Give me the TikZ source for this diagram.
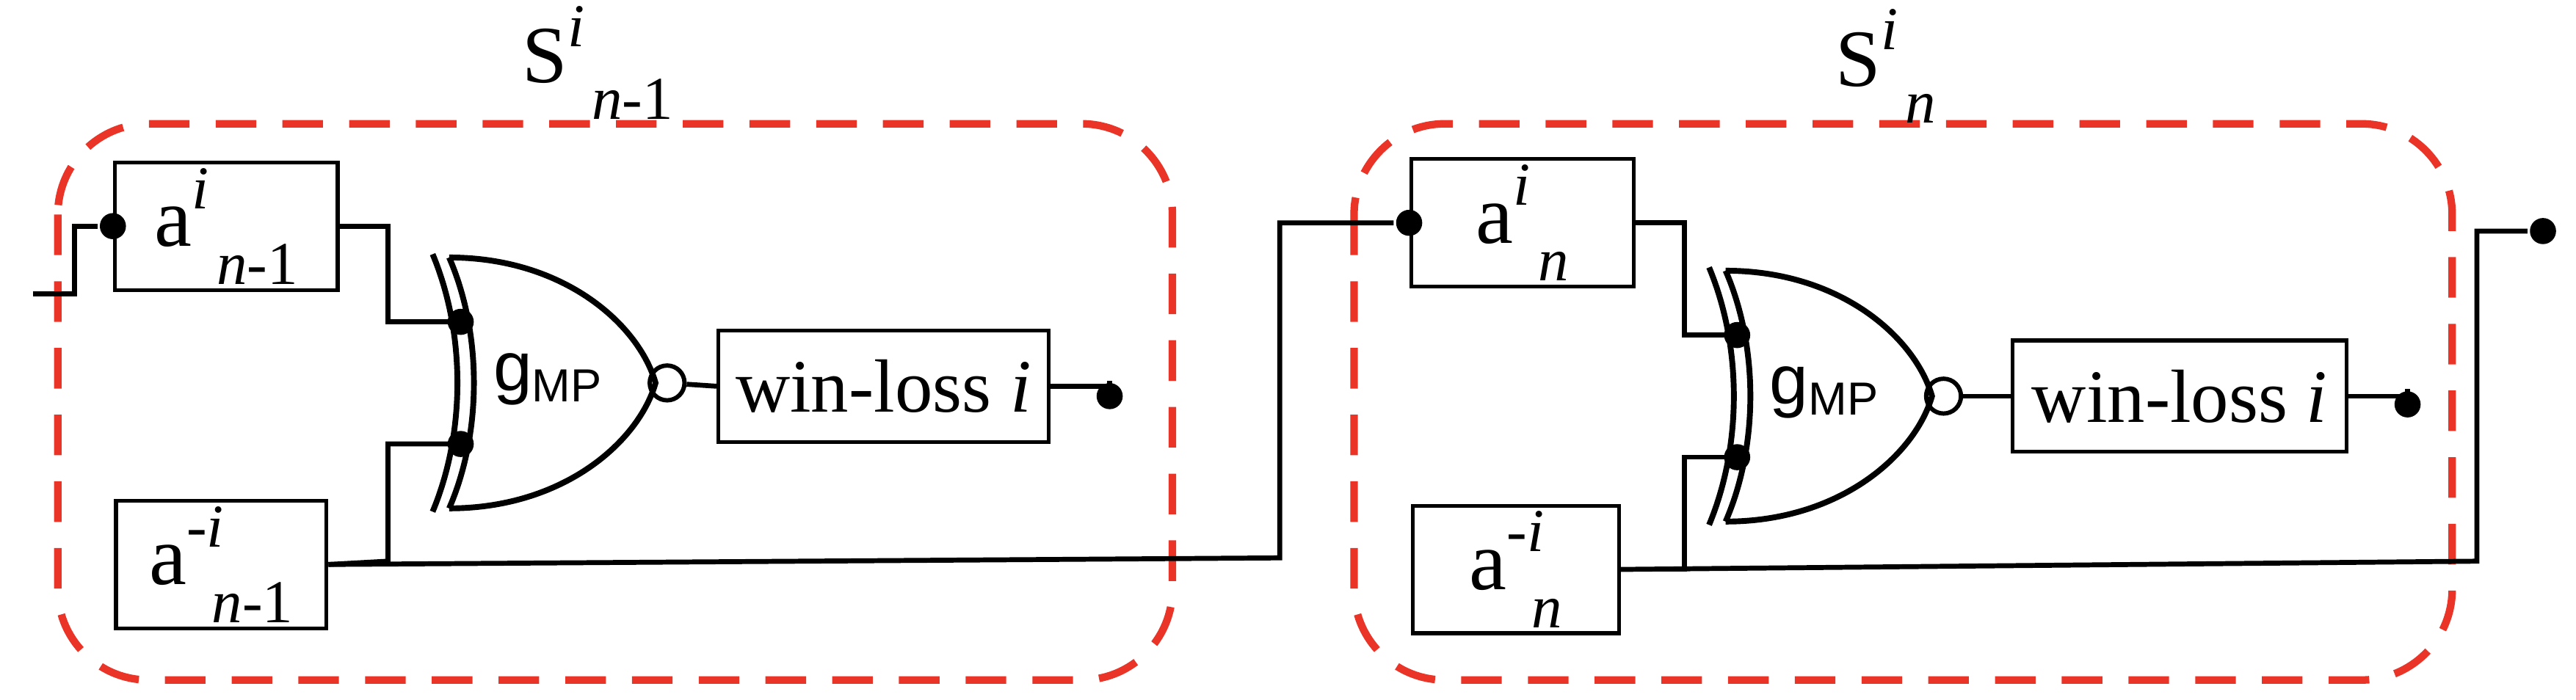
\documentclass[tikz,border=0pt]{standalone}
\usepackage{fontspec}
\setmainfont{Liberation Serif}
\newfontfamily\gatefont{Liberation Sans}
\usetikzlibrary{positioning}
\definecolor{stagered}{RGB}{235,52,40}
\newcommand{\regtxt}[3]{#1\rlap{\raisebox{0.45em}{\fontsize{21}{23}\selectfont #2}}\raisebox{-0.45em}{\hspace{0.3em}\fontsize{21}{23}\selectfont #3}}
\begin{document}
\begin{tikzpicture}[x=0.02cm,y=-0.02cm,line width=1.7pt]
\tikzset{reg/.style = {draw,line width=1.3pt,minimum height=1.35cm,inner sep=2pt,font=\fontsize{29}{32}\selectfont}}
\tikzset{wl/.style = {reg,font=\fontsize{26}{30}\selectfont}}
\tikzset{stage/.style = {draw=stagered,dash pattern=on 14pt off 9pt,line width=2.6pt,rounded corners=1.1cm}}
\tikzset{pin/.style = {circle,fill,inner sep=0pt,minimum size=9pt}}
\tikzset{ttl/.style = {font=\fontsize{28}{32}\selectfont}}
\useasboundingbox (0,0) rectangle (1560,424);
% stages
\draw[stage] (35,75) rectangle (710,412);
\draw[stage] (820,75) rectangle (1485,412);
\node[ttl] (s1) at (362,38) {\regtxt{S}{\textit{i}}{\textit{n}-1}};
\node[ttl] (s2) at (1142,40) {\regtxt{S}{\textit{i}}{\textit{n}}};
% gates
\foreach \gx/\gy/\gn in {262/232/g1, 1035/240/g2} {
  \begin{scope}[shift={(\gx,\gy)},line width=2pt]
    \draw (0,-78) .. controls (20,-30) and (20,30) .. (0,78);
    \draw (10,-76) .. controls (30,-30) and (30,30) .. (10,76);
    \draw (10,-76) .. controls (80,-76) and (125,-35) .. (135,0)
          .. controls (125,35) and (80,76) .. (10,76);
    \node[circle,draw,line width=1.5pt,inner sep=0pt,minimum size=12pt] (\gn) at (142,0) {};
    \node[font=\gatefont\fontsize{24}{28}\selectfont] at (70,-2) {g\textsubscript{\fontsize{16}{18}\selectfont MP}};
    \coordinate (\gn a) at (17,-37);
    \coordinate (\gn b) at (17,37);
  \end{scope}
}
% left stage
\node[reg,minimum width=2.7cm] (a1) at (137,137) {\regtxt{a}{\textit{i}}{\textit{n}-1}};
\node[reg,minimum width=2.55cm] (b1) at (134,342) {\regtxt{a}{-\textit{i}}{\textit{n}-1}};
\node[wl,minimum width=4cm] (w1) at (535,234) {win-loss \textit{i}};
\node[pin] (o1) at (672,240) {};
\node[pin] (i1) at (a1.west) {};
\coordinate (in) at (20,178);
\draw (in) -- (45,178) |- (i1);
\draw (a1.east) -- (235,137) |- (g1a);
\node[pin] at (g1a) {};
\draw (b1.east) -- (235,340) |- (g1b);
\node[pin] at (g1b) {};
\draw (g1) -- (w1.west);
\draw (w1.east) -- (w1.east -| o1) -- (o1);
% right stage
\node[reg,minimum width=2.7cm] (a2) at (922,135) {\regtxt{a}{\textit{i}}{\textit{n}}};
\node[reg,minimum width=2.5cm] (b2) at (918,345) {\regtxt{a}{-\textit{i}}{\textit{n}}};
\node[wl,minimum width=4.05cm] (w2) at (1320,240) {win-loss \textit{i}};
\node[pin] (o2) at (1458,245) {};
\node[pin] (i2) at (a2.west) {};
\draw (b1.east) -- (775,338) |- (i2);
\draw (a2.east) -- (1020,135) |- (g2a);
\node[pin] at (g2a) {};
\draw (b2.east) -- (1020,345) |- (g2b);
\node[pin] at (g2b) {};
\draw (g2) -- (w2.west);
\draw (w2.east) -- (w2.east -| o2) -- (o2);
\node[pin] (o3) at (1540,140) {};
\draw (b2.east) -- (1500,340) |- (o3);
\end{tikzpicture}
\end{document}
